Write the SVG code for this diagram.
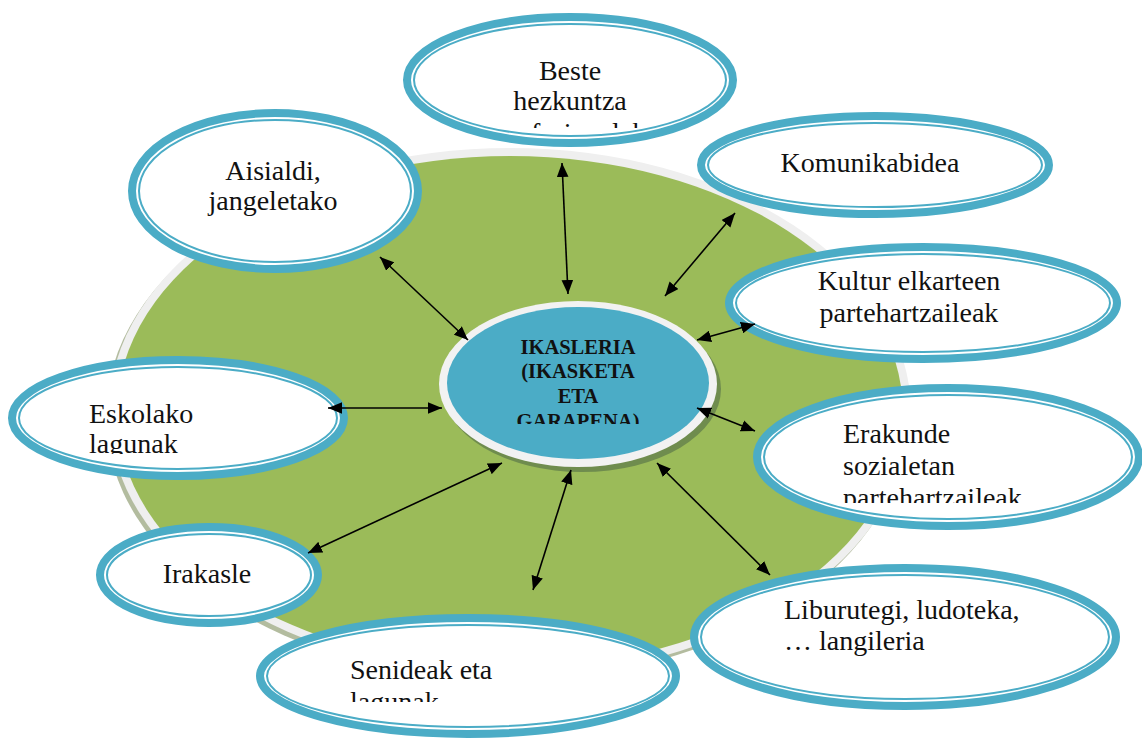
<svg xmlns="http://www.w3.org/2000/svg" width="1142" height="738" viewBox="0 0 1142 738">
<style>
.band{fill:#ffffff;stroke:#4bacc6;stroke-width:8}
.thin{fill:none;stroke:#4bacc6;stroke-width:2}
.lbl{font-family:"Liberation Serif",serif;font-size:28px;fill:#111}
.mid{text-anchor:middle}
.ctr{font-family:"Liberation Serif",serif;font-size:20.5px;font-weight:bold;fill:#111;text-anchor:middle}
.conn{stroke:#000;stroke-width:1.6;fill:none;marker-start:url(#ah);marker-end:url(#ah)}
</style>
<defs>
<marker id="ah" viewBox="0 0 12 10" refX="12" refY="5" markerWidth="14" markerHeight="12" markerUnits="userSpaceOnUse" orient="auto-start-reverse">
<path d="M0,0 L12,5 L0,10 z" fill="#000"/>
</marker>
<clipPath id="cBeste"><rect x="400" y="0" width="340" height="128"/></clipPath>
<clipPath id="cCtr"><rect x="440" y="300" width="280" height="124"/></clipPath>
<clipPath id="cErak"><rect x="750" y="380" width="392" height="123"/></clipPath>
<clipPath id="cEsk"><rect x="0" y="350" width="350" height="104"/></clipPath>
<clipPath id="cSen"><rect x="250" y="610" width="440" height="92"/></clipPath>
</defs>
<rect width="1142" height="738" fill="#ffffff"/>

<g id="background">
<ellipse cx="507" cy="416" rx="401" ry="264" fill="#b3bc9f"/>
<ellipse cx="510" cy="412" rx="401" ry="264" fill="#efefef"/>
<ellipse cx="510" cy="412" rx="393" ry="256" fill="#9bbb59"/>
</g>

<g id="center">
<ellipse cx="582" cy="389" rx="139" ry="83" fill="#6f8c4e"/>
<ellipse cx="578" cy="384" rx="139" ry="83" fill="#f2f2f2"/>
<ellipse cx="578" cy="383" rx="131" ry="76" fill="#4bacc6"/>
<g clip-path="url(#cCtr)">
<text class="ctr" x="578" y="354">IKASLERIA</text>
<text class="ctr" x="578" y="378">(IKASKETA</text>
<text class="ctr" x="578" y="403">ETA</text>
<text class="ctr" x="578" y="428">GARAPENA)</text>
</g>
</g>

<g id="aisialdi">
<ellipse class="band" cx="275" cy="191" rx="143" ry="78"/>
<ellipse class="thin" cx="275" cy="191" rx="136" ry="71"/>
<text class="lbl mid" x="273" y="180">Aisialdi,</text>
<text class="lbl mid" x="273" y="210">jangeletako</text>
</g>

<g id="beste">
<ellipse class="band" cx="570" cy="80" rx="163" ry="63"/>
<ellipse class="thin" cx="570" cy="80" rx="156" ry="56"/>
<g clip-path="url(#cBeste)">
<text class="lbl mid" x="570" y="80">Beste</text>
<text class="lbl mid" x="570" y="110">hezkuntza</text>
<text class="lbl mid" x="570" y="142">profesionalak</text>
</g>
</g>

<g id="komunikabidea">
<ellipse class="band" cx="875" cy="165" rx="174" ry="49"/>
<ellipse class="thin" cx="875" cy="165" rx="167" ry="42"/>
<text class="lbl mid" x="870" y="172">Komunikabidea</text>
</g>

<g id="kultur">
<ellipse class="band" cx="923" cy="303" rx="194" ry="56"/>
<ellipse class="thin" cx="923" cy="303" rx="187" ry="49"/>
<text class="lbl mid" x="909" y="290">Kultur elkarteen</text>
<text class="lbl mid" x="909" y="322">partehartzaileak</text>
</g>

<g id="erakunde">
<ellipse class="band" cx="948" cy="457" rx="191" ry="69"/>
<ellipse class="thin" cx="948" cy="457" rx="184" ry="62"/>
<g clip-path="url(#cErak)">
<text class="lbl" x="843" y="443">Erakunde</text>
<text class="lbl" x="843" y="475">sozialetan</text>
<text class="lbl" x="843" y="507">partehartzaileak</text>
</g>
</g>

<g id="eskolako">
<ellipse class="band" cx="178" cy="418" rx="166" ry="58"/>
<ellipse class="thin" cx="178" cy="418" rx="159" ry="51"/>
<g clip-path="url(#cEsk)">
<text class="lbl" x="89" y="423">Eskolako</text>
<text class="lbl" x="89" y="453">lagunak</text>
</g>
</g>

<g id="irakasle">
<ellipse class="band" cx="209" cy="575" rx="109" ry="48"/>
<ellipse class="thin" cx="209" cy="575" rx="102" ry="41"/>
<text class="lbl mid" x="207" y="583">Irakasle</text>
</g>

<g id="senideak">
<ellipse class="band" cx="468" cy="676" rx="208" ry="58"/>
<ellipse class="thin" cx="468" cy="676" rx="201" ry="51"/>
<g clip-path="url(#cSen)">
<text class="lbl" x="350" y="679">Senideak eta</text>
<text class="lbl" x="350" y="711">lagunak</text>
</g>
</g>

<g id="liburutegi">
<ellipse class="band" cx="905" cy="637" rx="211" ry="69"/>
<ellipse class="thin" cx="905" cy="637" rx="204" ry="62"/>
<text class="lbl" x="784" y="619">Liburutegi, ludoteka,</text>
<text class="lbl" x="784" y="650">… langileria</text>
</g>

<g id="connectors">
<line class="conn" x1="562" y1="163" x2="568" y2="294"/>
<line class="conn" x1="380" y1="257" x2="468" y2="340"/>
<line class="conn" x1="735" y1="213" x2="665" y2="296"/>
<line class="conn" x1="697" y1="340" x2="755" y2="324"/>
<line class="conn" x1="697" y1="408" x2="755" y2="431"/>
<line class="conn" x1="328" y1="408" x2="442" y2="408"/>
<line class="conn" x1="308" y1="553" x2="502" y2="463"/>
<line class="conn" x1="533" y1="590" x2="571" y2="470"/>
<line class="conn" x1="657" y1="463" x2="770" y2="575"/>
</g>
</svg>
